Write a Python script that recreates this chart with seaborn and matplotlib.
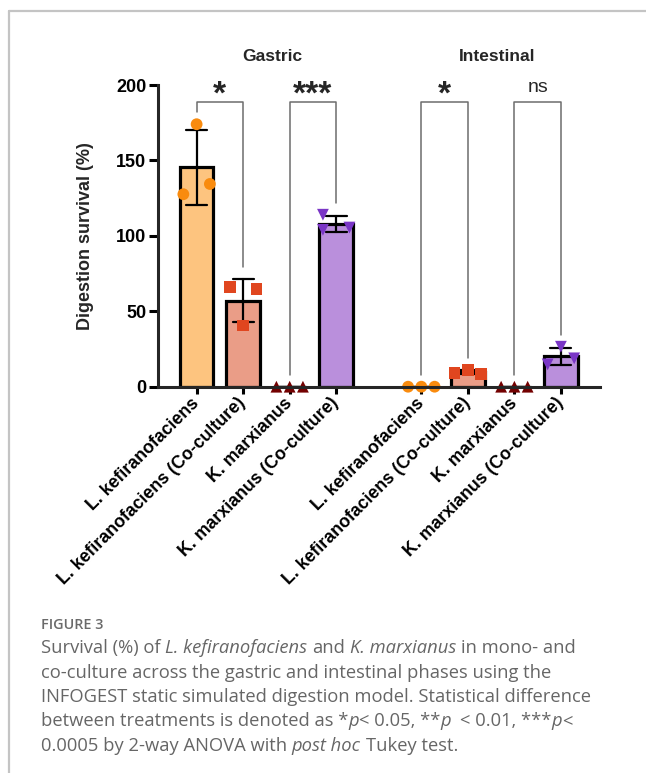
import numpy as np
import pandas as pd
import matplotlib
matplotlib.use("Agg")
import matplotlib.pyplot as plt
from matplotlib.lines import Line2D
from matplotlib.font_manager import FontProperties
import seaborn as sns

# ---------------- data ----------------
phases = ["Gastric", "Intestinal"]
strains = [
    "L. kefiranofaciens",
    "L. kefiranofaciens (Co-culture)",
    "K. marxianus",
    "K. marxianus (Co-culture)",
]

# replicate digestion survival (%), one list per phase x strain
gastric_lk = [127.6, 174.0, 134.4]
gastric_lk_co = [66.3, 40.5, 64.6]
gastric_km = [0.0, 0.0, 0.0]
gastric_km_co = [114.0, 104.0, 105.5]
intestinal_lk = [0.0, 0.0, 0.0]
intestinal_lk_co = [9.0, 11.0, 8.5]
intestinal_km = [0.0, 0.0, 0.0]
intestinal_km_co = [14.8, 26.5, 18.8]

# pairwise comparisons (bar index a, bar index b, label)
comparisons = [(0, 1, "*"), (2, 3, "***"), (4, 5, "*"), (6, 7, "ns")]

# ---------------- layout / style ----------------
series = [gastric_lk, gastric_lk_co, gastric_km, gastric_km_co,
          intestinal_lk, intestinal_lk_co, intestinal_km, intestinal_km_co]
# horizontal slot of each replicate inside its bar (-1 left, 0 centre, 1 right)
slots = [[-1, 0, 1], [-1, 0, 1], [-1, 0, 1], [-1, -1, 1],
         [-1, 0, 1], [-1, 0, 1], [-1, 0, 1], [-1, 0, 1]]
group_gap = 1.83
positions = [0, 1, 2, 3] + [3 + group_gap + i for i in range(4)]

bar_fill = ["#FDC47F", "#EA9D87", "#8B1A1A", "#BA8FDC"]
point_col = ["#F98B0E", "#E0461F", "#730000", "#7A36C6"]
markers = ["o", "s", "^", "v"]

rows = []
for i, vals in enumerate(series):
    for v, s in zip(vals, slots[i]):
        rows.append(dict(phase=phases[i // 4], strain=strains[i % 4],
                         value=v, slot=s, pos=positions[i]))
df = pd.DataFrame(rows)
df["xj"] = df["pos"] + df["slot"] * 0.285

sns.set_style("ticks")
plt.rcParams["font.family"] = ["Liberation Sans", "DejaVu Sans"]

W, H = 646, 773
fig = plt.figure(figsize=(W / 100, H / 100), dpi=100)
fig.patch.set_facecolor("white")
ax = fig.add_axes([158 / W, 1 - 386.7 / H, 442 / W, (386.7 - 85) / H])

sns.barplot(data=df, x="pos", y="value", hue="strain", hue_order=strains,
            palette=bar_fill, saturation=1, native_scale=True, dodge=False,
            width=0.72, errorbar="sd", capsize=0.45,
            err_kws=dict(color="black", linewidth=1.6, zorder=2.1),
            edgecolor="black", linewidth=2.3, legend=False, ax=ax)

sns.scatterplot(data=df, x="xj", y="value", hue="strain", style="strain",
                hue_order=strains, style_order=strains, palette=point_col,
                markers=markers, s=72, linewidth=0, legend=False,
                clip_on=False, zorder=2.3, ax=ax)

ax.set_xlim(-0.83, 8.67)
ax.set_ylim(0, 200)
ax.set_yticks([0, 50, 100, 150, 200])
ax.set_xticks(positions)
ax.set_xticklabels(strains * 2)
for lab in ax.get_xticklabels():
    lab.set_rotation(45)
    lab.set_ha("right")
    lab.set_va("center")
    lab.set_rotation_mode("anchor")
    lab.set_fontweight("bold")
    lab.set_fontsize(12.8)
for lab in ax.get_yticklabels():
    lab.set_fontweight("bold")
    lab.set_fontsize(13)

ax.set_xlabel("")
ax.set_ylabel("Digestion survival (%)", fontsize=13, fontweight="bold")
ax.yaxis.set_label_coords(-0.145, 0.5)

sns.despine(ax=ax)
for side in ("left", "bottom"):
    ax.spines[side].set_linewidth(2.2)
    ax.spines[side].set_zorder(2.5)
ax.tick_params(axis="y", length=6.5, width=2.2, pad=2, colors="black")
ax.tick_params(axis="x", length=5, width=2.2, pad=5, colors="black")

# phase headings
for g, name in enumerate(phases):
    cx = np.mean(positions[g * 4:(g + 1) * 4]) + 0.12
    ax.text(cx, 216, name, ha="center", va="baseline", fontsize=12.5,
            fontweight="bold", clip_on=False)

# significance brackets
def bar_top(i):
    v = np.asarray(series[i])
    return max(v.max(), v.mean() + v.std(ddof=1))

bracket_y = 189
for a, b, lab in comparisons:
    xa, xb = positions[a], positions[b]
    ax.plot([xa, xa, xb, xb],
            [bar_top(a) + 8, bracket_y, bracket_y, bar_top(b) + 8],
            color="#6c6c6c", linewidth=1.1, clip_on=False, zorder=1.5)
    if lab == "ns":
        ax.text((xa + xb) / 2, 195.5, lab, ha="center", va="baseline",
                fontsize=14, clip_on=False)
    else:
        ax.text((xa + xb) / 2, 188, lab, ha="center", va="baseline",
                fontsize=24, fontweight="bold", clip_on=False)

# page frame
frame = "#c4c4c4"
fig.add_artist(Line2D([9 / W, 1], [1 - 11 / H, 1 - 11 / H],
                      transform=fig.transFigure, color=frame, lw=1.6))
fig.add_artist(Line2D([9 / W, 9 / W], [0, 1 - 11 / H],
                      transform=fig.transFigure, color=frame, lw=1.6))

# caption with mixed upright / italic runs
cap_font = ["Open Sans", "DejaVu Sans"]
cap_col = "#666666"
cap_size = 13.2
renderer = fig.canvas.get_renderer()


def adv(s, style):
    fp = FontProperties(family=cap_font, style=style, size=cap_size)
    w1 = renderer.get_text_width_height_descent("|" + s + "|", fp, ismath=False)[0]
    w0 = renderer.get_text_width_height_descent("||", fp, ismath=False)[0]
    return w1 - w0


def rich_line(y_px, parts, x_px=41):
    x = x_px
    sp = adv(" ", "normal")
    for txt, style in parts:
        core = txt.strip(" ")
        lead = len(txt) - len(txt.lstrip(" "))
        trail = len(txt) - len(txt.rstrip(" "))
        x += lead * sp
        if core:
            fig.text(x / W, 1 - y_px / H, core, family=cap_font, style=style,
                     fontsize=cap_size, color=cap_col, ha="left", va="baseline")
            x += adv(core, style)
        x += trail * sp


fig.text(41 / W, 1 - 629 / H, "FIGURE 3", family=cap_font, fontsize=10.4,
         fontweight="semibold", color="#6a6a6a", ha="left", va="baseline")

n, it = "normal", "italic"
caption = [
    [("Survival (%) of ", n), ("L. kefiranofaciens", it), (" and ", n),
     ("K. marxianus", it), (" in mono- and", n)],
    [("co-culture across the gastric and intestinal phases using the", n)],
    [("INFOGEST static simulated digestion model. Statistical difference", n)],
    [("between treatments is denoted as *", n), ("p", it), ("< 0.05, **", n),
     ("p", it), ("  < 0.01, ***", n), ("p", it), ("<", n)],
    [("0.0005 by 2-way ANOVA with ", n), ("post hoc", it), (" Tukey test.", n)],
]
for k, parts in enumerate(caption):
    rich_line(653 + 24.5 * k, parts)

fig.savefig("out.png", dpi=100, facecolor="white")
